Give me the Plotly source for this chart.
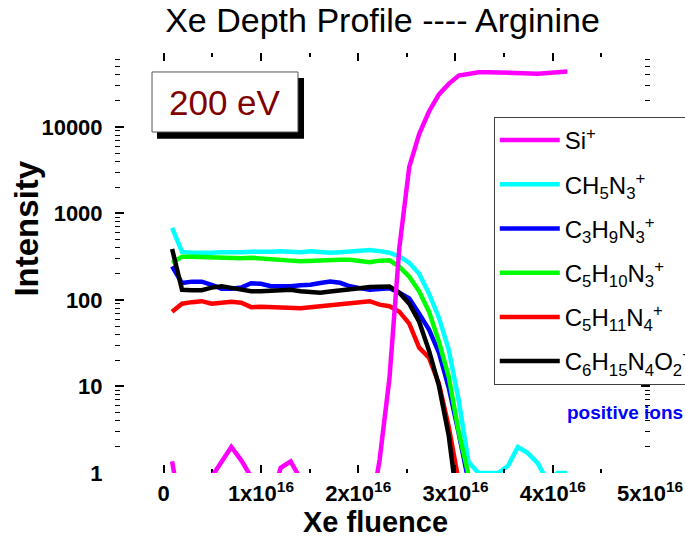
import plotly.graph_objects as go

# Xe fluence in units of 1e16 ions/cm^2
fluence_e16 = [0.087, 0.189, 0.290, 0.392, 0.493, 0.595, 0.696, 0.798, 0.900, 1.001,
               1.103, 1.204, 1.306, 1.408, 1.509, 1.611, 1.712, 1.814, 1.915, 2.017,
               2.119, 2.220, 2.322, 2.423, 2.525, 2.627, 2.728, 2.830, 2.931, 3.033,
               3.134, 3.236, 3.338, 3.439, 3.541, 3.642, 3.744, 3.846, 3.947, 4.049,
               4.150]

si = [1.36, 0.3, 0.3, 0.3, 0.9, 1.36, 2.0, 1.4, 0.9, 0.3,
      0.5, 1.15, 1.36, 0.85, 0.3, 0.3, 0.3, 0.3, 0.3, 0.3,
      0.3, 1.41, 12.6, 399, 3450, 8280, 15100, 23800, 31500, 39300,
      41300, 43000, 43000, 42500, 42100, 42000, 41800, 41300, 42000, 43000,
      43900]

ch5n3 = [680, 359, 352, 348, 352, 357, 352, 357, 362, 357,
         362, 365, 362, 357, 365, 359, 352, 357, 362, 367,
         377, 367, 352, 317, 270, 201, 118, 62.4, 26.6, 7.0,
         1.35, 1.0, 1.0, 1.0, 1.21, 2.0, 1.7, 1.3, 0.8, 1.0,
         1.0]

c3h9n3 = [245, 157, 163, 163, 150, 135, 135, 139, 156, 154,
          144, 143, 144, 148, 150, 157, 163, 158, 144, 137,
          131, 134, 137, 121, 104, 69.5, 45.4, 24.6, 9.7, 2.89,
          0.8, 0.3, 0.3, 0.3, 0.3, 0.3, 0.3, 0.3, 0.3, 0.3,
          0.3]

c5h10n3 = [268, 317, 317, 313, 317, 313, 308, 304, 308, 300,
           292, 288, 285, 281, 285, 288, 292, 292, 292, 285,
           274, 285, 288, 243, 186, 126, 73.3, 33, 13, 3.0,
           1.06, 0.3, 0.3, 0.3, 0.3, 0.3, 0.3, 0.3, 0.3, 0.3,
           0.3]

c5h11n4 = [73.3, 90.6, 94.4, 96.9, 90.6, 93, 95.6, 93, 82.6, 83.7,
           82.6, 80.4, 79.3, 80.4, 82.6, 84.8, 87, 89.4, 91.8, 94.4,
           96.9, 88.3, 84.8, 73.3, 53.2, 28.1, 21.5, 10.8, 3.43, 0.8,
           0.3, 0.3, 0.3, 0.3, 0.3, 0.3, 0.3, 0.3, 0.3, 0.3,
           0.3]

c6h15n4o2 = [389, 131, 130, 130, 139, 144, 138, 131, 126, 126,
             128, 131, 131, 126, 124, 121, 125, 130, 133, 137,
             141, 144, 143, 121, 90.6, 56, 26, 10.2, 2.70, 0.35,
             0.3, 0.3, 0.3, 0.3, 0.3, 0.3, 0.3, 0.3, 0.3, 0.3,
             0.3]

names = ["Si<sup>+</sup>",
         "CH<sub>5</sub>N<sub>3</sub><sup>+</sup>",
         "C<sub>3</sub>H<sub>9</sub>N<sub>3</sub><sup>+</sup>",
         "C<sub>5</sub>H<sub>10</sub>N<sub>3</sub><sup>+</sup>",
         "C<sub>5</sub>H<sub>11</sub>N<sub>4</sub><sup>+</sup>",
         "C<sub>6</sub>H<sub>15</sub>N<sub>4</sub>O<sub>2</sub><sup>+</sup>"]
colors = ["#ff00ff", "#00ffff", "#0000ff", "#00ff00", "#ff0000", "#000000"]
series = [si, ch5n3, c3h9n3, c5h10n3, c5h11n4, c6h15n4o2]

x_tick_vals_e16 = [0, 1, 2, 3, 4, 5]
x_tick_text = ["0", "1x10<sup>16</sup>", "2x10<sup>16</sup>", "3x10<sup>16</sup>",
               "4x10<sup>16</sup>", "5x10<sup>16</sup>"]
y_tick_vals = [1, 10, 100, 1000, 10000]
y_tick_text = ["1", "10", "100", "1000", "10000"]

x = [v * 1e16 for v in fluence_e16]

fig = go.Figure()
for i in range(len(series)):
    fig.add_trace(go.Scatter(
        x=x, y=series[i], mode="lines", name=names[i],
        line=dict(color=colors[i], width=4.5),
        legendgroup="g%d" % i, zorder=1 if i == 0 else 0,
    ))

FONT = "Arial, Liberation Sans, sans-serif"

fig.update_layout(
    width=685, height=540,
    margin=dict(l=115, r=35, t=53, b=67, autoexpand=False),
    paper_bgcolor="white", plot_bgcolor="white",
    font=dict(family=FONT, color="black"),
    title=dict(text="Xe Depth Profile ---- Arginine", x=0.5584, xanchor="center",
               y=0.963, yanchor="middle", font=dict(size=34, family=FONT)),
    showlegend=True,
    legend=dict(x=0.708, y=0.8476, xanchor="left", yanchor="top",
                bgcolor="white", bordercolor="#404040", borderwidth=1,
                font=dict(size=24, family=FONT), tracegroupgap=10,
                itemwidth=60, traceorder="grouped"),
    xaxis=dict(
        range=[-0.5e16, 5e16], showgrid=False, zeroline=False,
        showline=True, linecolor="black", linewidth=2, mirror="ticks",
        ticks="inside", ticklen=8, tickwidth=1.5, tickcolor="black",
        tickmode="array", tickvals=[v * 1e16 for v in x_tick_vals_e16], ticktext=x_tick_text,
        tickfont=dict(size=22, family=FONT, weight="bold"),
        minor=dict(ticks="inside", ticklen=4, tickwidth=1.5, tickcolor="black",
                   tickvals=[v * 1e16 for v in [0.5, 1.5, 2.5, 3.5, 4.5]]),
    ),
    yaxis=dict(
        type="log", range=[0, 4.855], showgrid=False, zeroline=False,
        showline=True, linecolor="black", linewidth=2, mirror="ticks",
        ticks="inside", ticklen=9, tickwidth=1.5, tickcolor="black",
        tickmode="array", tickvals=y_tick_vals, ticktext=y_tick_text,
        tickfont=dict(size=22, family=FONT, weight="bold"), ticklabelstandoff=6,
        minor=dict(ticks="inside", ticklen=5, tickwidth=1.2, tickcolor="black", dtick="D1"),
    ),
    shapes=[
        dict(type="rect", xref="paper", yref="paper", x0=0.0785, x1=0.3533, y0=0.796, y1=0.9405,
             fillcolor="black", line=dict(width=0), layer="above"),
        dict(type="rect", xref="paper", yref="paper", x0=0.0692, x1=0.342, y0=0.8119, y1=0.9548,
             fillcolor="white", line=dict(color="#555555", width=1), layer="above"),
    ],
    annotations=[
        dict(text="200 eV", xref="paper", yref="paper", x=0.2056, y=0.8833,
             xanchor="center", yanchor="middle",
             showarrow=False, font=dict(size=35, color="#800000", family=FONT)),
        dict(text="<b>positive ions</b>", xref="paper", yref="paper", x=0.953, y=0.1429,
             xanchor="center", yanchor="middle",
             showarrow=False, font=dict(size=19, color="#0000ff", family=FONT)),
        dict(text="<b>Xe fluence</b>", xref="paper", yref="paper", x=0.487, y=-0.1167,
             xanchor="center", yanchor="middle",
             showarrow=False, font=dict(size=29, family=FONT)),
        dict(text="<b>Intensity</b>", xref="paper", yref="paper", x=-0.1645, y=0.582,
             xanchor="center", yanchor="middle",
             textangle=-90, showarrow=False, font=dict(size=33, family=FONT)),
    ],
)

fig.write_html("out.html")
